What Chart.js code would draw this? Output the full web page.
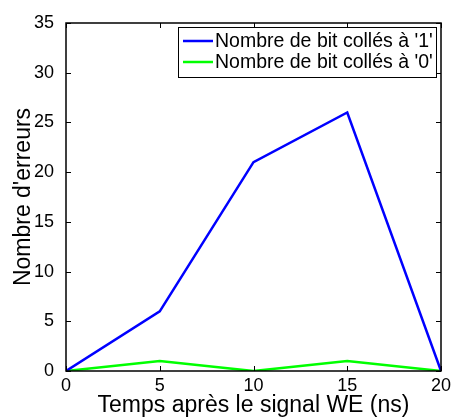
<!DOCTYPE html>
<html>
<head>
<meta charset="utf-8">
<script src="https://cdn.jsdelivr.net/npm/chart.js@4/dist/chart.umd.min.js"></script>
<style>
  html, body { margin: 0; padding: 0; background: #fff; }
  #wrap { width: 453px; height: 417px; }
</style>
</head>
<body>
<div id="wrap"><canvas id="graph"></canvas></div>
<script>
const temps = [0, 5, 10, 15, 20];
const bitsColles1 = [0, 6, 21, 26, 0];
const bitsColles0 = [0, 1, 0, 1, 0];
const xTicks = [0, 5, 10, 15, 20];
const yTicks = [0, 5, 10, 15, 20, 25, 30, 35];

const FONT = 'Liberation Sans, Arial, sans-serif';

// ticks vers l'intérieur + cadre façon MATLAB
const cadre = {
  id: 'cadre',
  afterDatasetsDraw(chart) {
    const { ctx, chartArea: a, scales: { x, y } } = chart;
    ctx.save();
    ctx.strokeStyle = '#000';
    ctx.lineWidth = 1;
    const L = 5;
    ctx.beginPath();
    xTicks.forEach(v => {
      const px = Math.round(x.getPixelForValue(v)) + 0.5;
      ctx.moveTo(px, a.bottom); ctx.lineTo(px, a.bottom - L);
      ctx.moveTo(px, a.top); ctx.lineTo(px, a.top + L);
    });
    yTicks.forEach(v => {
      const py = Math.round(y.getPixelForValue(v)) + 0.5;
      ctx.moveTo(a.left, py); ctx.lineTo(a.left + L, py);
      ctx.moveTo(a.right, py); ctx.lineTo(a.right - L, py);
    });
    ctx.stroke();
    ctx.lineWidth = 1.5;
    ctx.strokeRect(a.left, a.top, a.right - a.left, a.bottom - a.top);

    // légende
    const bx = 178, by = 27, bw = 258, bh = 50;
    ctx.fillStyle = '#fff';
    ctx.fillRect(bx, by, bw, bh);
    ctx.lineWidth = 1;
    ctx.strokeRect(bx + 0.5, by + 0.5, bw, bh);
    ctx.font = '19.5px ' + FONT;
    ctx.textBaseline = 'middle';
    chart.data.datasets.forEach((ds, i) => {
      const ly = by + 14 + i * 21;
      ctx.strokeStyle = ds.borderColor;
      ctx.lineWidth = 2.5;
      ctx.beginPath();
      ctx.moveTo(bx + 5, ly); ctx.lineTo(bx + 35, ly);
      ctx.stroke();
      ctx.fillStyle = '#000';
      ctx.fillText(ds.label, bx + 37, ly + 1);
    });
    ctx.restore();
  }
};

new Chart(document.getElementById('graph'), {
  type: 'line',
  data: {
    datasets: [
      {
        label: "Nombre de bit collés à '1'",
        data: temps.map((t, i) => ({ x: t, y: bitsColles1[i] })),
        borderColor: '#0000ff',
        borderWidth: 2.5,
        pointRadius: 0,
        tension: 0,
        fill: false,
      },
      {
        label: "Nombre de bit collés à '0'",
        data: temps.map((t, i) => ({ x: t, y: bitsColles0[i] })),
        borderColor: '#00ff00',
        borderWidth: 2.5,
        pointRadius: 0,
        tension: 0,
        fill: false,
      },
    ],
  },
  options: {
    responsive: true,
    maintainAspectRatio: false,
    animation: false,
    layout: { padding: { top: 23, right: 12, left: 0, bottom: 0 } },
    plugins: { legend: { display: false }, tooltip: { enabled: false } },
    scales: {
      x: {
        type: 'linear',
        min: 0, max: 20,
        afterBuildTicks: s => { s.ticks = xTicks.map(v => ({ value: v })); },
        afterFit: s => { s.height = 46; },
        grid: { display: false },
        border: { display: false },
        ticks: { color: '#000', padding: -2, maxRotation: 0, font: { family: FONT, size: 18, lineHeight: 1 } },
        title: {
          display: true,
          text: 'Temps après le signal WE (ns)',
          color: '#000',
          padding: { top: 1, bottom: 0 },
          font: { family: FONT, size: 23, lineHeight: 1 },
        },
      },
      y: {
        min: 0, max: 35,
        afterBuildTicks: s => { s.ticks = yTicks.map(v => ({ value: v })); },
        afterFit: s => { s.width = 66; },
        grid: { display: false },
        border: { display: false },
        ticks: { color: '#000', padding: 4, font: { family: FONT, size: 18 } },
        title: {
          display: true,
          text: "Nombre d'erreurs",
          color: '#000',
          padding: { top: 12, bottom: 0 },
          font: { family: FONT, size: 23, lineHeight: 1 },
        },
      },
    },
  },
  plugins: [cadre],
});
</script>
</body>
</html>
